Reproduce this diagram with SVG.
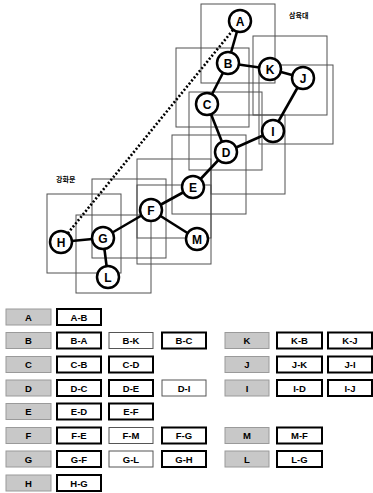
<svg xmlns="http://www.w3.org/2000/svg" width="373" height="493" viewBox="0 0 373 493">
<style>
.bg{fill:#fff}
.area{fill:none;stroke:#505050;stroke-width:1}
.edge{stroke:#000;stroke-width:2.6;fill:none}
.dot{stroke:#000;stroke-width:2.6;fill:none;stroke-dasharray:2 2}
.node circle{fill:#fff;stroke:#000;stroke-width:2.5}
.node text{font-family:"Liberation Sans",Arial,sans-serif;font-size:12px;font-weight:bold;text-anchor:middle;fill:#000}
.lbl{font-family:"Noto Sans CJK KR","Noto Sans CJK SC",sans-serif;font-size:7px;font-weight:bold;fill:#000}
.key rect{fill:#c8c8c8;stroke:#9a9a9a;stroke-width:1}
.thick rect{fill:#fff;stroke:#000;stroke-width:2}
.thin rect{fill:#fff;stroke:#555;stroke-width:1}
.key text,.thick text,.thin text{font-family:"Liberation Sans",Arial,sans-serif;font-size:9.5px;font-weight:bold;text-anchor:middle;fill:#000}
</style>
<rect class="bg" x="0" y="0" width="373" height="493"/>
<g id="areas">
<rect class="area" x="201" y="4" width="74" height="79"/>
<rect class="area" x="176" y="48" width="73" height="79"/>
<rect class="area" x="253" y="36" width="74" height="79"/>
<rect class="area" x="259" y="65" width="74" height="79"/>
<rect class="area" x="189" y="92" width="73" height="78"/>
<rect class="area" x="172" y="135" width="74" height="79"/>
<rect class="area" x="211" y="115" width="74" height="79"/>
<rect class="area" x="137" y="159" width="74" height="79"/>
<rect class="area" x="137" y="185" width="74" height="79"/>
<rect class="area" x="92" y="179" width="74" height="79"/>
<rect class="area" x="76" y="215" width="75" height="78"/>
<rect class="area" x="47" y="194" width="74" height="79"/>
</g>
<text class="lbl" x="289" y="18">삼육대</text>
<text class="lbl" x="56" y="182">강화문</text>
<g id="connectors">
<line class="dot" x1="233" y1="30" x2="68" y2="233"/>
<line class="edge" x1="240" y1="21" x2="228" y2="63"/>
<line class="edge" x1="228" y1="63" x2="270" y2="69"/>
<line class="edge" x1="270" y1="69" x2="303" y2="78"/>
<line class="edge" x1="303" y1="78" x2="273" y2="131"/>
<line class="edge" x1="273" y1="131" x2="226" y2="152"/>
<line class="edge" x1="228" y1="63" x2="207" y2="104"/>
<line class="edge" x1="207" y1="104" x2="226" y2="152"/>
<line class="edge" x1="226" y1="152" x2="193" y2="187"/>
<line class="edge" x1="193" y1="187" x2="151" y2="210"/>
<line class="edge" x1="151" y1="210" x2="197" y2="239"/>
<line class="edge" x1="151" y1="210" x2="103" y2="238"/>
<line class="edge" x1="103" y1="238" x2="61" y2="242"/>
<line class="edge" x1="103" y1="238" x2="108" y2="277"/>
</g>
<g id="node-A" class="node"><circle cx="240" cy="21" r="11"/><text x="240" y="25.5">A</text></g>
<g id="node-B" class="node"><circle cx="228" cy="63" r="11"/><text x="228" y="67.5">B</text></g>
<g id="node-K" class="node"><circle cx="270" cy="69" r="11"/><text x="270" y="73.5">K</text></g>
<g id="node-J" class="node"><circle cx="303" cy="78" r="11"/><text x="303" y="82.5">J</text></g>
<g id="node-C" class="node"><circle cx="207" cy="104" r="11"/><text x="207" y="108.5">C</text></g>
<g id="node-I" class="node"><circle cx="273" cy="131" r="11"/><text x="273" y="135.5">I</text></g>
<g id="node-D" class="node"><circle cx="226" cy="152" r="11"/><text x="226" y="156.5">D</text></g>
<g id="node-E" class="node"><circle cx="193" cy="187" r="11"/><text x="193" y="191.5">E</text></g>
<g id="node-F" class="node"><circle cx="151" cy="210" r="11"/><text x="151" y="214.5">F</text></g>
<g id="node-M" class="node"><circle cx="197" cy="239" r="11"/><text x="197" y="243.5">M</text></g>
<g id="node-G" class="node"><circle cx="103" cy="238" r="11"/><text x="103" y="242.5">G</text></g>
<g id="node-H" class="node"><circle cx="61" cy="242" r="11"/><text x="61" y="246.5">H</text></g>
<g id="node-L" class="node"><circle cx="108" cy="277" r="11"/><text x="108" y="281.5">L</text></g>
<g id="table">
<g class="key"><rect x="6" y="309" width="45" height="16"/><text x="28.5" y="320.5">A</text></g>
<g class="thick"><rect x="57" y="309" width="44" height="16"/><text x="79" y="320.5">A-B</text></g>

<g class="key"><rect x="6" y="332.5" width="45" height="16"/><text x="28.5" y="344">B</text></g>
<g class="thick"><rect x="57" y="332.5" width="44" height="16"/><text x="79" y="344">B-A</text></g>
<g class="thin"><rect x="109" y="332.5" width="44" height="16"/><text x="131" y="344">B-K</text></g>
<g class="thick"><rect x="162" y="332.5" width="44" height="16"/><text x="184" y="344">B-C</text></g>
<g class="key"><rect x="225" y="332.5" width="44" height="16"/><text x="247" y="344">K</text></g>
<g class="thick"><rect x="277" y="332.5" width="45" height="16"/><text x="299.5" y="344">K-B</text></g>
<g class="thick"><rect x="328" y="332.5" width="44" height="16"/><text x="350" y="344">K-J</text></g>

<g class="key"><rect x="6" y="356.5" width="45" height="16"/><text x="28.5" y="368">C</text></g>
<g class="thick"><rect x="57" y="356.5" width="44" height="16"/><text x="79" y="368">C-B</text></g>
<g class="thick"><rect x="109" y="356.5" width="44" height="16"/><text x="131" y="368">C-D</text></g>
<g class="key"><rect x="225" y="356.5" width="44" height="16"/><text x="247" y="368">J</text></g>
<g class="thick"><rect x="277" y="356.5" width="45" height="16"/><text x="299.5" y="368">J-K</text></g>
<g class="thick"><rect x="328" y="356.5" width="44" height="16"/><text x="350" y="368">J-I</text></g>

<g class="key"><rect x="6" y="380" width="45" height="16"/><text x="28.5" y="391.5">D</text></g>
<g class="thick"><rect x="57" y="380" width="44" height="16"/><text x="79" y="391.5">D-C</text></g>
<g class="thick"><rect x="109" y="380" width="44" height="16"/><text x="131" y="391.5">D-E</text></g>
<g class="thin"><rect x="162" y="380" width="44" height="16"/><text x="184" y="391.5">D-I</text></g>
<g class="key"><rect x="225" y="380" width="44" height="16"/><text x="247" y="391.5">I</text></g>
<g class="thick"><rect x="277" y="380" width="45" height="16"/><text x="299.5" y="391.5">I-D</text></g>
<g class="thick"><rect x="328" y="380" width="44" height="16"/><text x="350" y="391.5">I-J</text></g>

<g class="key"><rect x="6" y="403.5" width="45" height="16"/><text x="28.5" y="415">E</text></g>
<g class="thick"><rect x="57" y="403.5" width="44" height="16"/><text x="79" y="415">E-D</text></g>
<g class="thick"><rect x="109" y="403.5" width="44" height="16"/><text x="131" y="415">E-F</text></g>

<g class="key"><rect x="6" y="427.5" width="45" height="16"/><text x="28.5" y="439">F</text></g>
<g class="thick"><rect x="57" y="427.5" width="44" height="16"/><text x="79" y="439">F-E</text></g>
<g class="thin"><rect x="109" y="427.5" width="44" height="16"/><text x="131" y="439">F-M</text></g>
<g class="thick"><rect x="162" y="427.5" width="44" height="16"/><text x="184" y="439">F-G</text></g>
<g class="key"><rect x="225" y="427.5" width="44" height="16"/><text x="247" y="439">M</text></g>
<g class="thick"><rect x="277" y="427.5" width="45" height="16"/><text x="299.5" y="439">M-F</text></g>

<g class="key"><rect x="6" y="451" width="45" height="16"/><text x="28.5" y="462.5">G</text></g>
<g class="thick"><rect x="57" y="451" width="44" height="16"/><text x="79" y="462.5">G-F</text></g>
<g class="thin"><rect x="109" y="451" width="44" height="16"/><text x="131" y="462.5">G-L</text></g>
<g class="thick"><rect x="162" y="451" width="44" height="16"/><text x="184" y="462.5">G-H</text></g>
<g class="key"><rect x="225" y="451" width="44" height="16"/><text x="247" y="462.5">L</text></g>
<g class="thick"><rect x="277" y="451" width="45" height="16"/><text x="299.5" y="462.5">L-G</text></g>

<g class="key"><rect x="6" y="475" width="45" height="16"/><text x="28.5" y="486.5">H</text></g>
<g class="thick"><rect x="57" y="475" width="44" height="16"/><text x="79" y="486.5">H-G</text></g>
</g>
</svg>
